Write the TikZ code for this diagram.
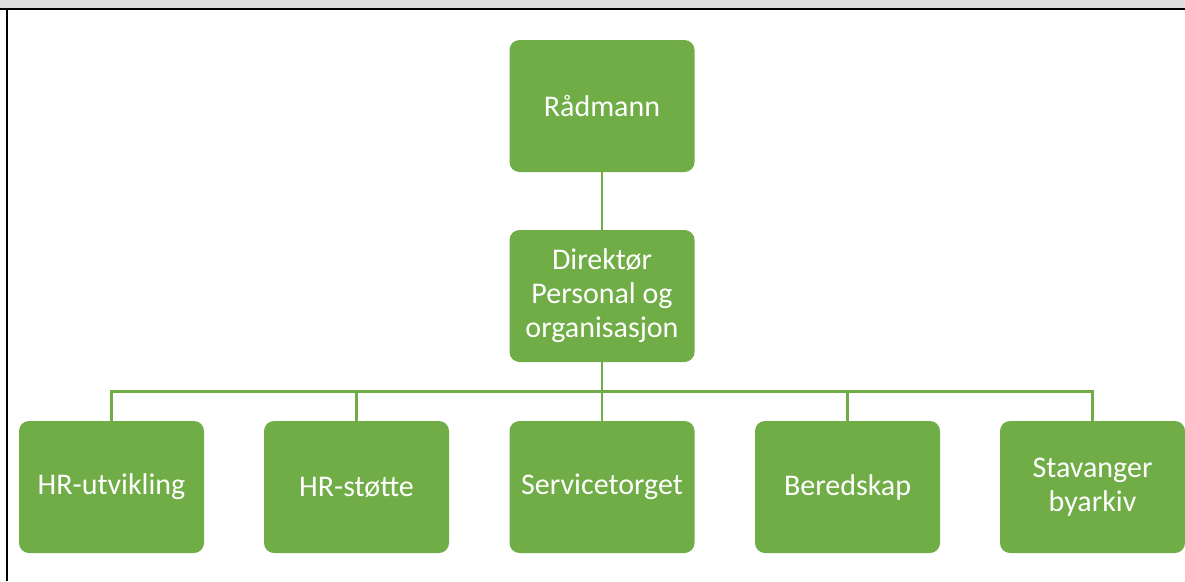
\documentclass[tikz,border=0pt]{standalone}
\usepackage{fontspec}
\setmainfont{Carlito}
\definecolor{boxgreen}{HTML}{70AD47}
\definecolor{hdrgray}{HTML}{DFDFDF}
\tikzset{
  orgbox/.style={fill=boxgreen, draw=none, rounded corners=10pt, minimum width=185pt, minimum height=132pt, text=white, align=center, font=\fontsize{30}{34}\selectfont, inner sep=2pt},
  link/.style={draw=boxgreen, line width=2.4pt}
}
\begin{document}
\begin{tikzpicture}[x=1pt,y=-1pt]
\useasboundingbox (0,0) rectangle (1185,581);
\fill[white] (0,0) rectangle (1185,581);
\fill[hdrgray] (0,0) rectangle (1185,8);
\draw[black, line width=2pt] (0,9) -- (1185,9);
\draw[black, line width=2pt] (7,9) -- (7,581);
\node[orgbox] (rad) at (602,106) {Rådmann};
\node[orgbox] (dir) at (602,296) {Direktør\\Personal og\\organisasjon};
\node[orgbox] (hru) at (111.5,487) {HR-utvikling};
\node[orgbox] (hrs) at (356.5,487) {HR-støtte};
\node[orgbox] (svc) at (602,487) {Servicetorget};
\node[orgbox] (ber) at (847.5,487) {Beredskap};
\node[orgbox] (sby) at (1092.5,487) {Stavanger\\byarkiv};
\coordinate (bus) at (602,391.5);
\draw[link] (rad.south) -- (dir.north);
\draw[link] (dir.south) -- (bus);
\draw[link] (hru.north) |- (bus) -| (sby.north);
\draw[link] (hrs.north) -- (hrs.north |- bus);
\draw[link] (svc.north) -- (bus);
\draw[link] (ber.north) -- (ber.north |- bus);
\end{tikzpicture}
\end{document}
